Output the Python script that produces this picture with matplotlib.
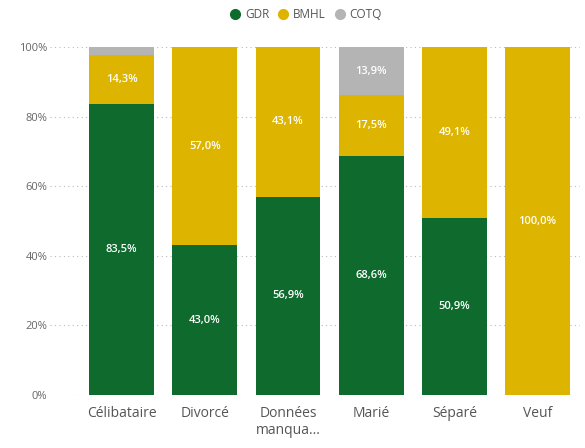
import matplotlib.pyplot as plt
from matplotlib.lines import Line2D
import numpy as np

categories = ["Célibataire", "Divorcé", "Données\nmanqua...", "Marié", "Séparé", "Veuf"]
gdr = [83.5, 43.0, 56.9, 68.6, 50.9, 0.0]
bmhl = [14.3, 57.0, 43.1, 17.5, 49.1, 100.0]
cotq = [2.2, 0.0, 0.0, 13.9, 0.0, 0.0]

series = [("GDR", gdr, "#0F6A2E"), ("BMHL", bmhl, "#DDB400"), ("COTQ", cotq, "#B4B4B4")]

plt.rcParams["font.family"] = ["Open Sans", "DejaVu Sans"]

fig = plt.figure(figsize=(5.85, 4.48), dpi=100)
ax = fig.add_axes([50 / 585, 53 / 448, 530 / 585, 348 / 448])

x = np.arange(len(categories))
bottom = np.zeros(len(categories))
for name, vals, color in series:
    vals = np.array(vals)
    ax.bar(x, vals, bottom=bottom, width=0.78, color=color, zorder=2)
    for xi, b, v in zip(x, bottom, vals):
        if v >= 5:
            ax.text(xi, b + v / 2, f"{v:.1f}%".replace(".", ","), ha="center", va="center",
                    color="white", fontsize=8, fontweight="semibold", zorder=3)
    bottom += vals

ax.set_xlim(-0.86, 5.51)
ax.set_ylim(0, 100)
ax.set_yticks([0, 20, 40, 60, 80, 100])
ax.set_yticklabels(["0%", "20%", "40%", "60%", "80%", "100%"])
ax.set_xticks(x)
ax.set_xticklabels(categories)
ax.tick_params(axis="y", length=0, labelsize=8, labelcolor="#666666", pad=2)
ax.tick_params(axis="x", length=0, labelsize=10, labelcolor="#555555", pad=8)
ax.yaxis.grid(True, linestyle=(0, (1, 3)), color="#BBBBBB", linewidth=0.8, zorder=0)
for s in ax.spines.values():
    s.set_visible(False)

handles = [Line2D([], [], marker="o", linestyle="", markersize=7, color=c, label=n)
           for n, _, c in series]
fig.legend(handles=handles, loc="upper center", bbox_to_anchor=(0.517, 1.005), ncol=3,
           frameon=False, fontsize=8.5, handletextpad=-0.2, columnspacing=0.2,
           labelcolor="#555555")

fig.savefig("out.png", dpi=100)
